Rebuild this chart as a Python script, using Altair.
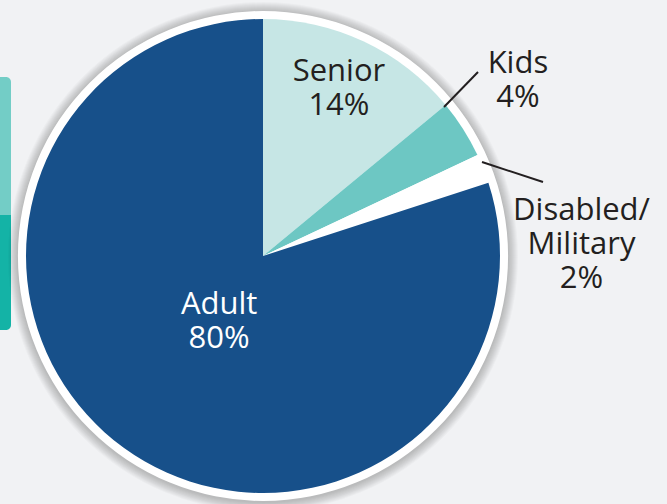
import altair as alt
import pandas as pd

categories = ["Senior", "Kids", "Disabled/Military", "Adult"]
shares = [14, 4, 2, 80]
labels = ["Senior\n14%", "Kids\n4%", "Disabled/\nMilitary\n2%", "Adult\n80%"]
colors = ["#c6e6e5", "#6dc7c3", "#ffffff", "#17508a"]

df = pd.DataFrame({"category": categories, "share": shares, "label": labels,
                   "rank": list(range(len(categories)))})

W, H = 667, 504
CX, CY = 263, 256
R = 237
BG = "#f1f2f4"
FONT = "Open Sans"

base = alt.Chart(df).encode(
    x=alt.value(CX), y=alt.value(CY),
    theta=alt.Theta("share:Q", stack=True),
    order=alt.Order("rank:Q"),
)

# soft shadow rings
shadow_layers = []
for i, r in enumerate(range(255, 245, -1)):
    shadow_layers.append(
        alt.Chart(df.head(1)).mark_arc(theta=0, theta2=6.2832, radius=r, color="#000000",
                                        opacity=0.022).encode(
            x=alt.value(CX), y=alt.value(CY + 1))
    )

ring = alt.Chart(df.head(1)).mark_arc(theta=0, theta2=6.2832, radius=245, color="#ffffff").encode(
    x=alt.value(CX), y=alt.value(CY))

pie = base.mark_arc(radius=R).encode(
    color=alt.Color("category:N", scale=alt.Scale(domain=categories, range=colors), legend=None)
)

label_base = alt.Chart(df).transform_window(
    cum="sum(share)", sort=[alt.SortField("rank")]
).transform_joinaggregate(
    total="sum(share)"
).transform_calculate(
    angle="2 * PI * (datum.cum - datum.share / 2) / datum.total"
).encode(
    x=alt.value(CX), y=alt.value(CY),
    theta=alt.Theta("angle:Q", scale=None),
    text="label:N",
)

def lab(cat, radius, color, dx=0, dy=0):
    return label_base.transform_filter(alt.datum.category == cat).mark_text(
        radius=radius, dx=dx, dy=dy, font=FONT, fontSize=31, fontWeight=500, lineBreak="\n",
        lineHeight=34, align="center", baseline="middle", color=color
    )

texts = [
    lab("Senior", 183, "#231f20", dx=-2, dy=-18),
    lab("Kids", 309, "#231f20", dx=-6, dy=-26),
    lab("Disabled/Military", 320, "#231f20", dx=21, dy=73),
    lab("Adult", 78, "#ffffff", dx=2, dy=-14),
]

leaders = [
    alt.Chart(df.head(1)).mark_rule(color="#231f20", strokeWidth=2).encode(
        x=alt.value(478), y=alt.value(72), x2=alt.value(444), y2=alt.value(107)),
    alt.Chart(df.head(1)).mark_rule(color="#231f20", strokeWidth=2).encode(
        x=alt.value(482), y=alt.value(162), x2=alt.value(543), y2=alt.value(182)),
]

strip = [
    alt.Chart(df.head(1)).mark_rect(color="#73cdc6", cornerRadiusTopRight=5).encode(
        x=alt.value(-5), x2=alt.value(11), y=alt.value(77), y2=alt.value(216)),
    alt.Chart(df.head(1)).mark_rect(color="#14b3a6", cornerRadiusBottomRight=5).encode(
        x=alt.value(-5), x2=alt.value(11), y=alt.value(215), y2=alt.value(330)),
]

chart = alt.layer(*strip, *shadow_layers, ring, pie, *leaders, *texts).properties(
    width=W, height=H, background=BG, padding=0,
    autosize=alt.AutoSizeParams(type="none"),
).configure_view(stroke=None)

chart.save("out.html", embed_options={"renderer": "svg", "actions": False})
